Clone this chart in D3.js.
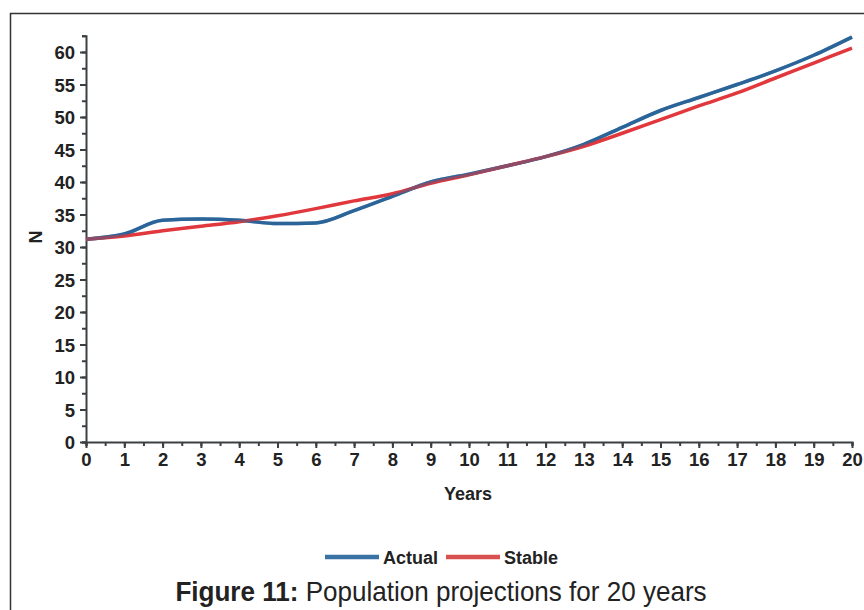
<!DOCTYPE html>
<html>
<head>
<meta charset="utf-8">
<script src="https://cdn.jsdelivr.net/npm/d3@7"></script>
<style>
	body { margin: 0; background: #fff; }
	svg { display: block; }
	.lbl { font-family: "Liberation Sans", Arial, sans-serif; font-weight: bold; fill: #222; }
</style>
</head>
<body>
<svg id="chart" width="864" height="610"></svg>
<script>
	// years on the x axis
	var years = [0, 1, 2, 3, 4, 5, 6, 7, 8, 9, 10, 11, 12, 13, 14, 15, 16, 17, 18, 19, 20];
	// population N
	var actual = [31.2, 32.0, 34.1, 34.3, 34.1, 33.6, 33.7, 35.6, 37.8, 40.0, 41.2, 42.5, 43.9, 45.8, 48.4, 51.0, 53.0, 55.0, 57.1, 59.5, 62.3];
	var stable = [31.2, 31.7, 32.5, 33.2, 33.9, 34.8, 35.9, 37.1, 38.2, 39.8, 41.1, 42.5, 43.9, 45.5, 47.5, 49.6, 51.7, 53.7, 56.0, 58.3, 60.6];
	var yTickLabels = [0, 5, 10, 15, 20, 25, 30, 35, 40, 45, 50, 55, 60];
	var seriesNames = ['Actual', 'Stable'];
	var seriesColors = ['#2a649a', '#e0383c'];

	var svg = d3.select('#chart');

	// page frame of the scanned figure
	svg.append('path')
		.attr('d', 'M10.5,610 V13.5 H864')
		.attr('fill', 'none')
		.attr('stroke', '#333')
		.attr('stroke-width', 1.5);

	var x = d3.scaleLinear().domain([0, 20]).range([86, 852]);
	var y = d3.scaleLinear().domain([0, 62.5]).range([442, 35.75]);

	var axisColor = '#3a3f42';

	// y axis: minor ticks every 2.5, labels every 5
	var gy = svg.append('g').attr('transform', 'translate(' + x(0) + ',0)');
	gy.call(d3.axisLeft(y).tickValues(d3.range(0, 62.6, 2.5)).tickSize(4).tickFormat(''));
	var gyl = svg.append('g').attr('transform', 'translate(' + x(0) + ',0)');
	gyl.call(d3.axisLeft(y).tickValues(yTickLabels).tickSize(6).tickPadding(5));
	gyl.select('.domain').remove();
	gyl.selectAll('.tick text').attr('class', 'lbl').style('font-size', '18.5px').attr('dy', '0.36em');
	[gy, gyl].forEach(function(g) {
		g.selectAll('line, path').attr('stroke', axisColor).attr('stroke-width', 2);
	});

	// x axis: minor ticks every half year
	var gx = svg.append('g').attr('transform', 'translate(0,' + y(0) + ')');
	gx.call(d3.axisBottom(x).tickValues(d3.range(0, 20.1, 0.5)).tickSize(4).tickFormat(''));
	var gxl = svg.append('g').attr('transform', 'translate(0,' + y(0) + ')');
	gxl.call(d3.axisBottom(x).tickValues(years).tickSize(6).tickPadding(5));
	gxl.select('.domain').remove();
	gxl.selectAll('.tick text').attr('class', 'lbl').style('font-size', '18.5px');
	[gx, gxl].forEach(function(g) {
		g.selectAll('line, path').attr('stroke', axisColor).attr('stroke-width', 2);
	});

	// axis titles
	svg.append('text')
		.attr('class', 'lbl')
		.attr('transform', 'translate(42,237) rotate(-90)')
		.attr('text-anchor', 'middle')
		.style('font-size', '18px')
		.text('N');
	svg.append('text')
		.attr('class', 'lbl')
		.attr('x', 468)
		.attr('y', 500)
		.attr('text-anchor', 'middle')
		.style('font-size', '18px')
		.text('Years');

	// lines
	var line = d3.line()
		.x(function(d, i) { return x(years[i]); })
		.y(function(d) { return y(d); })
		.curve(d3.curveMonotoneX);

	[actual, stable].forEach(function(serie, i) {
		svg.append('path')
			.attr('d', line(serie))
			.attr('fill', 'none')
			.attr('stroke', seriesColors[i])
			.attr('stroke-width', 3.5)
			.attr('stroke-linejoin', 'round');
	});
	// actual shows through where the two lines overlap
	svg.append('path')
		.attr('d', line(actual))
		.attr('fill', 'none')
		.attr('stroke', seriesColors[0])
		.attr('stroke-width', 3.5)
		.attr('opacity', 0.45);

	// legend
	var legendX = [325, 446];
	seriesNames.forEach(function(name, i) {
		var lg = svg.append('g').attr('transform', 'translate(' + legendX[i] + ',557)');
		lg.append('line')
			.attr('x1', 0).attr('x2', 54)
			.attr('stroke', i === 0 ? '#3a72a6' : '#d9514f')
			.attr('stroke-width', 4.5);
		lg.append('text')
			.attr('class', 'lbl')
			.attr('x', 58)
			.attr('y', 7)
			.style('font-size', '18px')
			.text(name);
	});

	// caption
	var cap = svg.append('text')
		.attr('transform', 'translate(441,601) scale(0.965,1)')
		.attr('text-anchor', 'middle')
		.style('font-family', '"Liberation Sans", Arial, sans-serif')
		.style('font-size', '27px')
		.style('fill', '#222');
	cap.append('tspan').style('font-weight', 'bold').text('Figure 11:');
	cap.append('tspan').text(' Population projections for 20 years');
</script>
</body>
</html>
